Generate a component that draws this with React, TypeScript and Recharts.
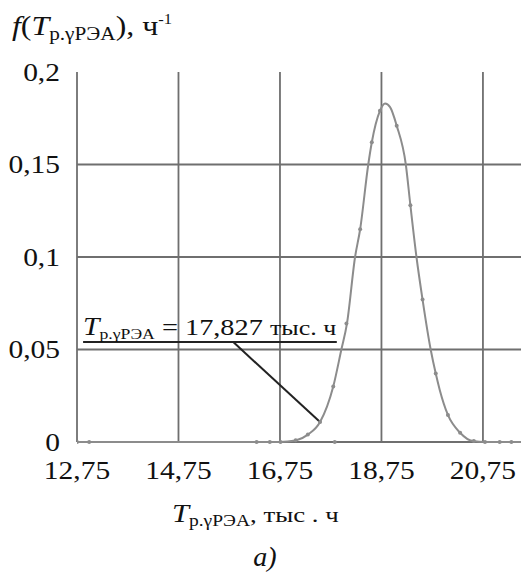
import { CartesianGrid, ComposedChart, Line, ReferenceLine, Scatter, XAxis, YAxis } from 'recharts';

// значения (тыс. ч / ч^-1)
const xTicks = [12.75, 14.75, 16.75, 18.75, 20.75];
const yTicks = [0, 0.05, 0.1, 0.15, 0.2];

const curveX = [12.75, 16.6, 16.9, 17.1, 17.3, 17.54, 17.8, 17.96, 18.07, 18.23, 18.33, 18.49, 18.56, 18.72, 18.82, 18.92, 19.05, 19.23, 19.32, 19.44, 19.56, 19.72, 19.82, 19.9, 20.06, 20.3, 20.55, 20.8, 21.5];
const curveY = [0, 0, 0.0003, 0.0012, 0.004, 0.0108, 0.03, 0.05, 0.064, 0.1, 0.115, 0.15, 0.162, 0.179, 0.183, 0.181, 0.171, 0.15, 0.128, 0.1, 0.077, 0.05, 0.037, 0.028, 0.0146, 0.005, 0.0005, 0, 0];

const dotX = [12.75, 12.99, 16.29, 16.55, 16.76, 17.06, 17.3, 17.54, 17.8, 17.83, 18.06, 18.33, 18.56, 18.72, 19.05, 19.32, 19.56, 19.82, 20.06, 20.3, 20.57, 20.79, 21.08, 21.31];
const dotY = [0, 0, 0, 0, 0, 0.001, 0.004, 0.0108, 0.03, 0, 0.064, 0.115, 0.162, 0.179, 0.171, 0.128, 0.077, 0.037, 0.0146, 0.005, 0.0005, 0, 0, 0];

const annValue = '17,827';
const annLevel = 0.054;
const annFrom = 12.87;
const annTo = 17.87;
const leaderFrom = 15.83;
const leaderTo = { x: 17.54, y: 0.0108 };

const curve = curveX.map((x, i) => ({ x, y: curveY[i] }));
const dots = dotX.map((x, i) => ({ x, y: dotY[i] }));

const FONT = 'Liberation Serif, DejaVu Serif, serif';
const GRID = '#6f6f6f';
const CURVE = '#8c8c8c';
const INK = '#111';
const SX = 1.18; // в оригинале текст немного растянут по горизонтали

const fmt = (v: number) => String(v).replace('.', ',');

const XTick = (props: any) => (
  <g transform={`translate(${props.x},${props.y}) scale(${SX},1)`}>
    <text x={0} y={0} dy="0.71em" textAnchor="middle" fontSize={25} fill={INK} style={{ fontFamily: FONT }}>
      {fmt(props.payload.value)}
    </text>
  </g>
);

const YTick = (props: any) => (
  <g transform={`translate(${props.x},${props.y}) scale(${SX},1)`}>
    <text x={0} y={0} dy="0.355em" textAnchor="end" fontSize={25} fill={INK} style={{ fontFamily: FONT }}>
      {fmt(props.payload.value)}
    </text>
  </g>
);

const renderAnnLabel = (props: any) => {
  const vb = props.viewBox ?? {};
  const x = Number(vb.x ?? 0);
  const y = Number(vb.y ?? 0);
  return (
    <g transform={`translate(${x},${y - 7}) scale(${SX},1)`}>
      <text x={0} y={0} style={{ fontFamily: FONT }} fill={INK}>
        <tspan fontStyle="italic" fontSize={25}>T</tspan>
        <tspan fontSize={15} dy={4}>р.γРЭА</tspan>
        <tspan fontSize={24} dy={-4}> = {annValue} </tspan>
        <tspan fontSize={22}>тыс. ч</tspan>
      </text>
    </g>
  );
};

const Dot = (props: any) => <circle cx={props.cx} cy={props.cy} r={2} fill={CURVE} />;

export default function App() {
  return (
    <div
      style={{
        position: 'absolute',
        left: 0,
        top: 0,
        width: 525,
        height: 575,
        background: '#fff',
        fontFamily: FONT,
      }}
    >
      <ComposedChart
        width={525}
        height={575}
        margin={{ top: 72, right: 4, bottom: 103, left: 0 }}
      >
        <CartesianGrid
          stroke={GRID}
          strokeWidth={1.8}
          verticalValues={xTicks}
          horizontalValues={[0, 0.05, 0.1, 0.15]}
        />
        <XAxis
          type="number"
          dataKey="x"
          domain={[12.75, 21.5]}
          ticks={xTicks}
          allowDataOverflow
          axisLine={false}
          tickLine={false}
          tickSize={0}
          tickMargin={19}
          height={30}
          tick={<XTick />}
        />
        <YAxis
          type="number"
          dataKey="y"
          domain={[0, 0.2]}
          ticks={yTicks}
          width={77}
          axisLine={false}
          tickLine={false}
          tickSize={0}
          tickMargin={17}
          tick={<YTick />}
        />
        <Line
          data={curve}
          dataKey="y"
          type="monotone"
          stroke={CURVE}
          strokeWidth={2}
          dot={false}
          isAnimationActive={false}
        />
        <Scatter data={dots} dataKey="y" shape={Dot} isAnimationActive={false} />
        <ReferenceLine
          segment={[{ x: annFrom, y: annLevel }, { x: annTo, y: annLevel }]}
          stroke="#222"
          strokeWidth={2}
          label={renderAnnLabel}
        />
        <ReferenceLine
          segment={[{ x: leaderFrom, y: annLevel }, leaderTo]}
          stroke="#222"
          strokeWidth={2}
        />
      </ComposedChart>
      <svg
        width={525}
        height={575}
        style={{ position: 'absolute', left: 0, top: 0, pointerEvents: 'none', fontFamily: FONT }}
      >
        <g transform={`translate(12,35) scale(${SX},1)`}>
          <text x={0} y={0} fill={INK}>
            <tspan fontStyle="italic" fontSize={27}>f</tspan>
            <tspan fontSize={27}>(</tspan>
            <tspan fontStyle="italic" fontSize={27}>T</tspan>
            <tspan fontSize={18} dy={5}>р.γРЭА</tspan>
            <tspan fontSize={27} dy={-5}>), ч</tspan>
            <tspan fontSize={14} dy={-11}>-1</tspan>
          </text>
        </g>
        <g transform={`translate(172,522) scale(1.22,1)`}>
          <text x={0} y={0} fill={INK}>
            <tspan fontStyle="italic" fontSize={25}>T</tspan>
            <tspan fontSize={16} dy={4}>р.γРЭА</tspan>
            <tspan fontSize={22} dy={-4}>, тыс . ч</tspan>
          </text>
        </g>
        <text x={265} y={566} textAnchor="middle" fontStyle="italic" fontSize={28} fill={INK}>
          a)
        </text>
      </svg>
    </div>
  );
}
